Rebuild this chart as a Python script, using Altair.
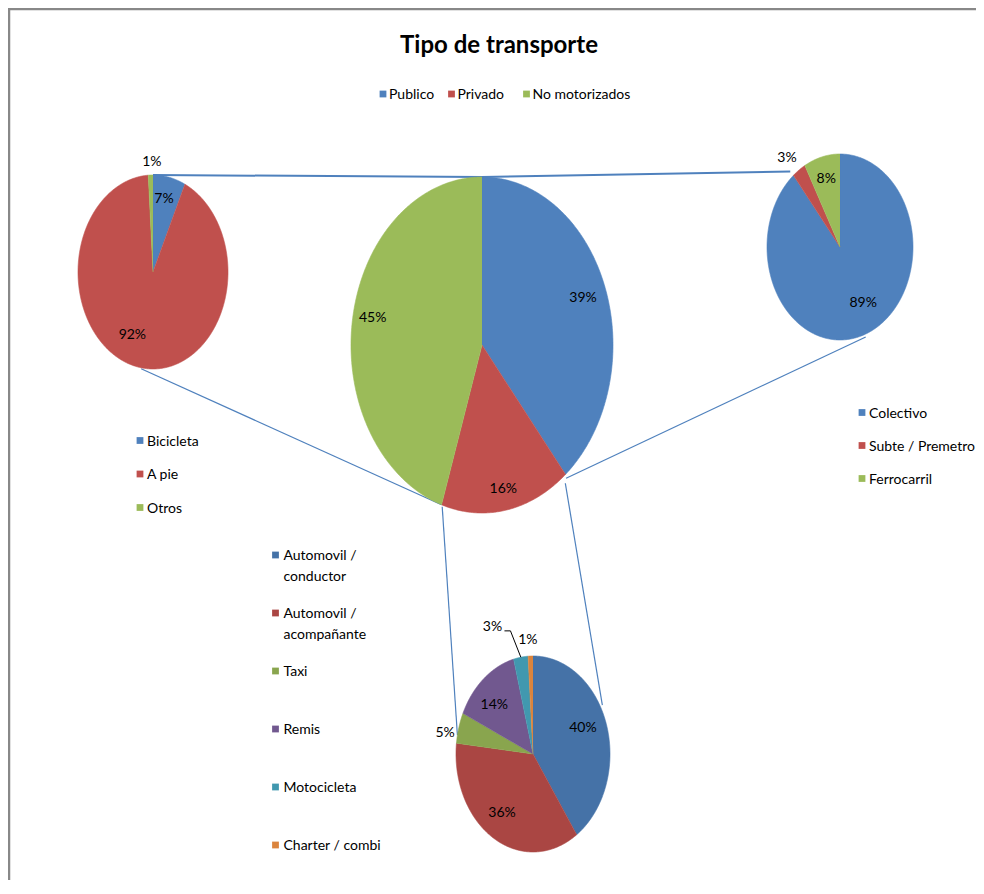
import math
import altair as alt
import pandas as pd

# ---------------- data ----------------
TITLE = "Tipo de transporte"

main_cats = ["Publico", "Privado", "No motorizados"]
main_vals = [39, 16, 45]

nomot_cats = ["Bicicleta", "A pie", "Otros"]
nomot_vals = [7, 92, 1]

pub_cats = ["Colectivo", "Subte / Premetro", "Ferrocarril"]
pub_vals = [89, 3, 8]

priv_cats = ["Automovil / conductor", "Automovil / acompañante", "Taxi",
             "Remis", "Motocicleta", "Charter / combi"]
priv_vals = [40, 36, 5, 14, 3, 1]

# ---------------- styles ----------------
office3 = ["#4F81BD", "#C0504D", "#9BBB59"]
priv_colors = ["#4572A7", "#AA4643", "#89A54E", "#71588F", "#4198AF", "#DB843D"]
LINE_BLUE = "#4F81BD"
FONT = "Lato, Liberation Sans, sans-serif"
FS = 14

# ---------------- layout (page pixels) ----------------
W, H = 968, 872
OX, OY = 8, 8
G = {"main": (482, 345, 131, 168), "tl": (153, 272, 75, 97),
     "tr": (840, 247, 73, 93), "bot": (533, 754, 77, 98)}

# label placement: (radial factor, angle offset in degrees)
main_lab = [(0.82, 0), (0.87, 0), (0.85, 2)]
nomot_lab = [(0.77, -1.6), (0.71, 12), (1.13, 1)]
pub_lab = [(0.68, -8), (1.2, -3), (0.755, 0)]
priv_lab = [(0.70, -5), (0.72, 3), (1.16, -5), (0.71, -5), (1.40, -13), (1.165, -1.5)]
priv_leader = [0, 0, 0, 0, 1, 0]

# connectors: (pie, angle deg, radial factor) -> (pie, angle, factor)
conn_a = ["tl", "main", "tl", "tr", "main", "main"]
conn_a_ang = [0, 0, 189, 160, 197.5, 142.3]
conn_a_r = [1.0, 1.0, 1.01, 1.03, 1.01, 1.04]
conn_b = ["main", "tr", "main", "main", "bot", "bot"]
conn_b_ang = [0, 320, 198, 141, 281, 61]
conn_b_r = [1.0, 1.06, 1.0, 1.02, 1.0, 1.03]
conn_w = [2, 2, 1.2, 1.2, 1.2, 1.2]

xs = alt.Scale(domain=[OX, OX + W], nice=False, zero=False)
ys = alt.Scale(domain=[OY, OY + H], nice=False, zero=False, reverse=True)


def X(f):
    return alt.X(f, scale=xs, axis=None)


def Y(f):
    return alt.Y(f, scale=ys, axis=None)


def pie(cats, vals, colors, key, lab, leader=None):
    cx, cy, rx, ry = G[key]
    df = pd.DataFrame({"cat": cats, "value": vals, "k": list(range(len(cats))),
                       "lr": [l[0] for l in lab], "lda": [l[1] for l in lab],
                       "leader": leader if leader else [0] * len(cats)})
    cscale = alt.Scale(domain=cats, range=colors)
    base = (alt.Chart(df)
            .transform_joinaggregate(total="sum(value)")
            .transform_window(cum="sum(value)", sort=[alt.SortField("k")])
            .transform_calculate(a0="2*PI*(datum.cum - datum.value)/datum.total",
                                 a1="2*PI*datum.cum/datum.total"))
    slices = (base
              .transform_calculate(n="max(2, ceil((datum.a1 - datum.a0)*360/PI))")
              .transform_calculate(idx="sequence(0, datum.n + 2)")
              .transform_flatten(["idx"])
              .transform_calculate(
                  t="datum.a0 + (datum.idx - 1)/datum.n*(datum.a1 - datum.a0)",
                  px=f"datum.idx == 0 ? {cx} : {cx} + {rx}*sin(datum.t)",
                  py=f"datum.idx == 0 ? {cy} : {cy} - {ry}*cos(datum.t)")
              .mark_line(strokeWidth=0.6)
              .encode(x=X("px:Q"), y=Y("py:Q"),
                      fill=alt.Fill("cat:N", scale=cscale, legend=None),
                      stroke=alt.Stroke("cat:N", scale=cscale, legend=None),
                      detail="cat:N", order=alt.Order("idx:Q")))
    labpos = base.transform_calculate(
        tm="(datum.a0 + datum.a1)/2 + datum.lda*PI/180",
        lx=f"{cx} + datum.lr*{rx}*sin(datum.tm)",
        ly=f"{cy} - datum.lr*{ry}*cos(datum.tm)",
        labtxt="datum.value + '%'")
    labels = labpos.mark_text(font=FONT, fontSize=FS, color="#000").encode(
        x=X("lx:Q"), y=Y("ly:Q"), text="labtxt:N")
    layers = [slices, labels]
    if leader:
        lead = (labpos.transform_filter("datum.leader == 1")
                .transform_calculate(
                    em="(datum.a0 + datum.a1)/2",
                    ex=f"{cx} + {rx}*sin(datum.em)",
                    ey=f"{cy} - {ry}*cos(datum.em)",
                    idx="sequence(0, 3)")
                .transform_flatten(["idx"])
                .transform_calculate(
                    qx="datum.idx == 0 ? datum.lx + 12 : (datum.idx == 1 ? datum.lx + 18 : datum.ex)",
                    qy="datum.idx < 2 ? datum.ly + 4 : datum.ey")
                .mark_line(color="#000", strokeWidth=1)
                .encode(x=X("qx:Q"), y=Y("qy:Q"), order=alt.Order("idx:Q")))
        layers.append(lead)
    return layers


def legend(cats, colors, xpos, ypos, dx=7):
    df = pd.DataFrame({"cat": cats, "qx": xpos, "qy": ypos})
    cscale = alt.Scale(domain=cats, range=colors)
    base = alt.Chart(df)
    sq = base.mark_square(size=46, opacity=1).encode(
        x=X("qx:Q"), y=Y("qy:Q"), fill=alt.Fill("cat:N", scale=cscale, legend=None))
    tx = (base.transform_calculate(tl="replace(datum.cat, 'Automovil / ', 'Automovil /\\n')")
          .mark_text(align="left", baseline="alphabetic", dx=dx, dy=5, lineBreak="\n",
                     lineHeight=21, font=FONT, fontSize=FS, color="#000")
          .encode(x=X("qx:Q"), y=Y("qy:Q"), text="tl:N"))
    return [sq, tx]


def ept(key, ang, r):
    cx, cy, rx, ry = G[key]
    a = math.radians(ang)
    return cx + r * rx * math.sin(a), cy - r * ry * math.cos(a)


rows = []
for a, aa, ar, b, ba, br, w in zip(conn_a, conn_a_ang, conn_a_r, conn_b, conn_b_ang, conn_b_r, conn_w):
    x1, y1 = ept(a, aa, ar)
    x2, y2 = ept(b, ba, br)
    rows.append({"x1": x1, "y1": y1, "x2": x2, "y2": y2, "w": w})
conn_df = pd.DataFrame(rows)
connectors = alt.Chart(conn_df).mark_rule(color=LINE_BLUE).encode(
    x=X("x1:Q"), y=Y("y1:Q"), x2="x2:Q", y2="y2:Q",
    strokeWidth=alt.StrokeWidth("w:Q", scale=None))

# chart-area frame (top and left edges visible in the reference)
frame_top = alt.Chart(pd.DataFrame({"x1": [OX], "x2": [OX + W], "yy": [9]})).mark_rule(
    color="#888888", strokeWidth=2.5).encode(x=X("x1:Q"), x2="x2:Q", y=Y("yy:Q"))
frame_left = alt.Chart(pd.DataFrame({"xx": [9], "y1": [OY], "y2": [OY + H]})).mark_rule(
    color="#888888", strokeWidth=2.5).encode(x=X("xx:Q"), y=Y("y1:Q"), y2="y2:Q")

title = alt.Chart(pd.DataFrame({"t": [TITLE]})).mark_text(
    font=FONT, fontSize=24, fontWeight="bold", color="#000", baseline="alphabetic"
).encode(x=alt.value(499 - OX), y=alt.value(53 - OY), text="t:N")

layers = [frame_top, frame_left, connectors]
layers += pie(main_cats, main_vals, office3, "main", main_lab)
layers += pie(nomot_cats, nomot_vals, office3, "tl", nomot_lab)
layers += pie(pub_cats, pub_vals, office3, "tr", pub_lab)
layers += pie(priv_cats, priv_vals, priv_colors, "bot", priv_lab, priv_leader)

layers += legend(main_cats, office3, [383, 451.5, 526.5], [94, 94, 94], dx=6)
layers += legend(nomot_cats, office3, [140] * 3, [440.5 + 33.5 * i for i in range(3)])
layers += legend(pub_cats, office3, [862] * 3, [412.5 + 33 * i for i in range(3)], dx=7)
layers += legend(priv_cats, priv_colors, [275.5] * 6, [555 + 58 * i for i in range(6)], dx=8)
layers.append(title)

chart = (alt.layer(*layers)
         .resolve_scale(fill="independent", stroke="independent")
         .properties(width=W, height=H, autosize=alt.AutoSizeParams(type="none"), padding=0)
         .configure_view(strokeWidth=0))

chart.save("out.html", embed_options={"renderer": "svg", "actions": False})
